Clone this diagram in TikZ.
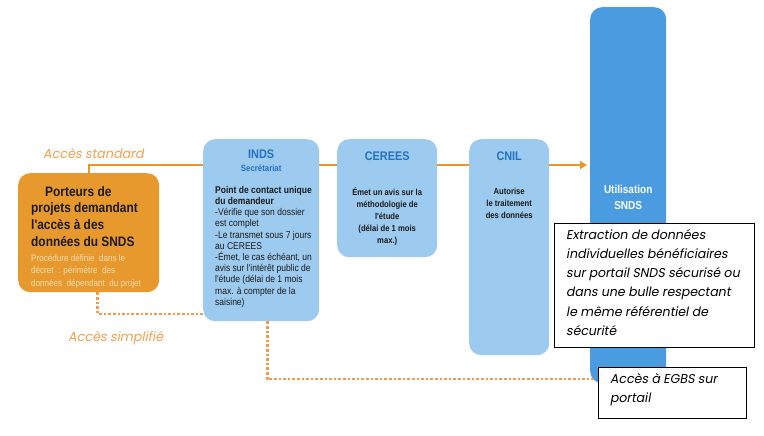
\documentclass[tikz,border=0pt]{standalone}
\usepackage{fontspec}
\setmainfont{Liberation Sans}
\newfontfamily\narrow[FakeStretch=0.87]{Liberation Sans}
\newfontfamily\gothic[FakeSlant=0.18,FakeStretch=0.98]{Poppins}
\usetikzlibrary{arrows.meta}
\definecolor{orbox}{HTML}{E8992E}
\definecolor{orline}{HTML}{E8952A}
\definecolor{ordot}{HTML}{F29A4A}
\definecolor{orlabel}{HTML}{F0A050}
\definecolor{lblue}{HTML}{9DCAEF}
\definecolor{dblue}{HTML}{4A9BE0}
\definecolor{tblue}{HTML}{2272C4}
\definecolor{subor}{HTML}{F8DDB5}
\definecolor{bodyk}{HTML}{1A1A1A}
\begin{document}
\begin{tikzpicture}[x=1pt,y=-1pt,
 box/.style={rounded corners=12pt, inner sep=0pt, anchor=north west},
 bluebox/.style={box, fill=lblue},
 titletxt/.style={font=\narrow\bfseries\fontsize{12.5}{14}\selectfont, text=tblue, anchor=north, inner sep=0pt},
 bodytxt/.style={font=\narrow\bfseries\fontsize{8.8}{12}\selectfont, align=center, anchor=north, text=bodyk, inner sep=0pt},
 stdline/.style={draw=orline, line width=1.6pt},
 dotline/.style={draw=ordot, line width=2.6pt, dash pattern=on 2.6pt off 2pt},
 lbl/.style={font=\gothic\fontsize{13}{15}\selectfont, text=orlabel, anchor=west, inner sep=0pt},
 note/.style={draw=black, line width=0.8pt, fill=white, anchor=north west, inner sep=0pt},
 notetext/.style={font=\gothic\fontsize{12.8}{19.2}\selectfont, align=left, anchor=north west, inner sep=0pt}
]
\useasboundingbox[fill=white] (0,0) rectangle (764,436);

% boxes
\node[box, fill=orbox, minimum width=141, minimum height=119] (porteur) at (18,173) {};
\node[bluebox, minimum width=116, minimum height=182] (inds) at (203,139) {};
\node[bluebox, minimum width=100, minimum height=118] (cerees) at (337,139) {};
\node[bluebox, minimum width=80, minimum height=216] (cnil) at (469,139) {};
\node[box, fill=dblue, minimum width=76, minimum height=376] (snds) at (590,7) {};

% texts in boxes
\node[font=\narrow\bfseries\fontsize{13.7}{16.8}\selectfont, align=left, anchor=north west, inner sep=0pt, text=bodyk] (porteurtitle) at (31,186) {\hspace*{14pt}Porteurs de\\projets demandant\\l'accès à des\\données du SNDS};
\node[font=\narrow\fontsize{9.3}{12.5}\selectfont, align=left, anchor=north west, inner sep=0pt, text=subor] (porteursub) at (31,254) {Procédure définie \ dans le\\décret \ : périmètre \ des\\données \ dépendant \ du projet};

\node[titletxt] (indstitle) at (inds.north |- 0,150) {INDS};
\node[titletxt, font=\narrow\bfseries\fontsize{9}{11}\selectfont] (indssub) at (inds.north |- 0,165) {Secrétariat};
\node[font=\narrow\fontsize{9.8}{11.2}\selectfont, align=left, anchor=north west, inner sep=0pt, text=bodyk] (indsbody) at (215,186) {\textbf{Point de contact unique}\\\textbf{du demandeur}\\-Vérifie que son dossier\\est complet\\-Le transmet sous 7 jours\\au CEREES\\-Émet, le cas échéant, un\\avis sur l'intérêt public de\\l'étude (délai de 1 mois\\max. à compter de la\\saisine)};

\node[titletxt] (cereestitle) at (cerees.north |- 0,152) {CEREES};
\node[bodytxt] (cereesbody) at (cerees.north |- 0,188) {Émet un avis sur la\\méthodologie de\\l'étude\\(délai de 1 mois\\max.)};

\node[titletxt] (cniltitle) at (cnil.north |- 0,152) {CNIL};
\node[bodytxt] (cnilbody) at (cnil.north |- 0,188) {Autorise\\le traitement\\des données};

\node[font=\narrow\bfseries\fontsize{11.5}{16}\selectfont, align=center, text=white, anchor=north, inner sep=0pt] (sndstxt) at (snds.north |- 0,185) {Utilisation\\SNDS};

% notes
\node[note, minimum width=200, minimum height=124] (extract) at (554,223) {};
\node[notetext] (extracttxt) at (566,229) {Extraction de données\\individuelles bénéficiaires\\sur portail SNDS sécurisé ou\\dans une bulle respectant\\le même référentiel de\\sécurité};
\node[note, minimum width=148, minimum height=51] (egbs) at (598,367) {};
\node[notetext] (egbstxt) at (610,373) {Accès à EGBS sur\\portail};

% connectors
\coordinate (std) at (0,165);
\draw[stdline] (porteur.north) |- (inds.west |- std);
\draw[stdline] (inds.east |- std) -- (cerees.west |- std);
\draw[stdline] (cerees.east |- std) -- (cnil.west |- std);
\draw[stdline, -{Triangle[length=7pt,width=8pt]}] (cnil.east |- std) -- ([xshift=-3pt]snds.west |- std);

\coordinate (simp) at (0,314);
\draw[dotline] ([xshift=9pt]porteur.south) |- (inds.west |- simp);
\coordinate (egbsy) at (0,379);
\draw[dotline] ([xshift=6pt]inds.south) |- ([xshift=-3pt]egbs.west |- egbsy);

% labels
\node[lbl] (stdlbl) at (43,153) {Accès standard};
\node[lbl] (simplbl) at (68,338) {Accès simplifié};
\end{tikzpicture}
\end{document}
